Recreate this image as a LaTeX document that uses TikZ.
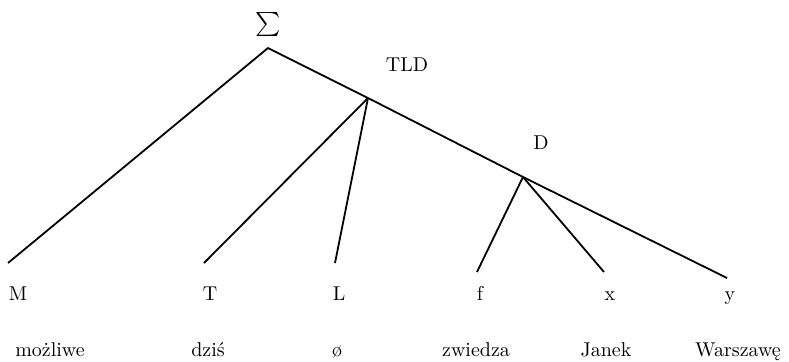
\documentclass[tikz,border=0pt]{standalone}
\usepackage{tikz}
\usetikzlibrary{positioning}

\begin{document}
\begin{tikzpicture}[x=0.5pt, y=-0.5pt, every node/.style={font=\normalsize, inner sep=0pt}, lbl/.style={anchor=base}, word/.style={anchor=base}, edge/.style={line width=0.9pt, line join=round}]
\useasboundingbox (0,0) rectangle (789,361);
\coordinate (root) at (268,48);
\coordinate (tld) at (368,98);
\coordinate (d) at (523,177);
\coordinate (mend) at (8,263);
\coordinate (tend) at (204,263);
\coordinate (lend) at (335,263);
\coordinate (fend) at (477,272);
\coordinate (xend) at (604,272);
\coordinate (yend) at (727,278);
\node[anchor=south] (sigma) at (268,37) {\scalebox{1.2}{\raisebox{0pt}[7.6pt][2.6pt]{$\sum$}}};
\node[lbl] (tldlbl) at (407,71) {TLD};
\node[lbl] (dlbl) at (541,149) {D};
\node[lbl] (m) at (18,300) {M};
\node[lbl] (t) at (210,300) {T};
\node[lbl] (l) at (339,300) {L};
\node[lbl] (f) at (480,300) {f};
\node[lbl] (x) at (610,300) {x};
\node[lbl] (y) at (730,300) {y};
\node[word] (mozliwe) at (50,356) {możliwe};
\node[word] (dzis) at (208,356) {dziś};
\node[word] (pusty) at (337,356) {ø};
\node[word] (zwiedza) at (476,356) {zwiedza};
\node[word] (janek) at (606,356) {Janek};
\node[word] (warszawe) at (738,356) {Warszawę};
\draw[edge] (mend) -- (root) -- (tld) -- (d) -- (yend);
\draw[edge] (tld) -- (tend);
\draw[edge] (tld) -- (lend);
\draw[edge] (d) -- (fend);
\draw[edge] (d) -- (xend);
\end{tikzpicture}
\end{document}
